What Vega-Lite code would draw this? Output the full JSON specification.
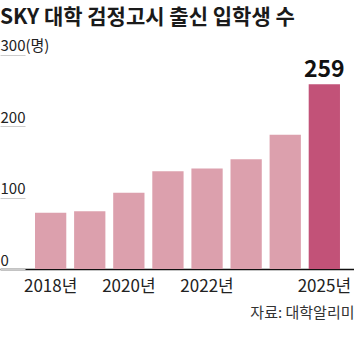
{
  "$schema": "https://vega.github.io/schema/vega-lite/v6.json",
  "width": 354,
  "height": 239,
  "autosize": {"type": "none"},
  "padding": {"top": 30, "left": 0, "right": 0, "bottom": 82},
  "background": "white",
  "title": {
    "text": "SKY 대학 검정고시 출신 입학생 수",
    "anchor": "start",
    "frame": "group",
    "font": "Noto Sans CJK KR",
    "fontSize": 21,
    "fontWeight": "bold",
    "color": "#1a1a1a",
    "offset": 2
  },
  "config": {
    "view": {"stroke": null},
    "font": "Noto Sans CJK KR"
  },
  "data": {
    "values": [
      {"year": "2018", "count": 79},
      {"year": "2019", "count": 81},
      {"year": "2020", "count": 107},
      {"year": "2021", "count": 137},
      {"year": "2022", "count": 141},
      {"year": "2023", "count": 154},
      {"year": "2024", "count": 188},
      {"year": "2025", "count": 259}
    ]
  },
  "encoding": {
    "x": {
      "field": "year",
      "type": "ordinal",
      "scale": {"paddingInner": 0.2, "paddingOuter": 0.627, "align": 0.714},
      "axis": {
        "values": ["2018", "2020", "2022", "2025"],
        "labelExpr": "datum.label + '년'",
        "labelAngle": 0,
        "labelFont": "Noto Sans CJK KR",
        "labelFontSize": 17,
        "labelColor": "#222222",
        "labelPadding": 9,
        "ticks": false,
        "domainColor": "#111111",
        "domainWidth": 1.5,
        "title": "자료: 대학알리미",
        "titleFont": "Noto Sans CJK KR",
        "titleFontSize": 15,
        "titleFontWeight": "normal",
        "titleColor": "#333333",
        "titleAnchor": "end",
        "titleAlign": "right",
        "titlePadding": 11
      }
    },
    "y": {
      "field": "count",
      "type": "quantitative",
      "scale": {"domain": [0, 335], "nice": false, "zero": true},
      "axis": {
        "values": [0, 100, 200, 300],
        "labelExpr": "datum.value == 300 ? '300(명)' : datum.label",
        "grid": false,
        "domain": false,
        "ticks": true,
        "tickSize": -25,
        "tickColor": "#cccccc",
        "tickWidth": 1,
        "labelAlign": "left",
        "labelBaseline": "alphabetic",
        "labelOffset": -4,
        "labelPadding": 25,
        "labelFont": "Noto Sans CJK KR",
        "labelFontSize": 15,
        "labelColor": "#222222",
        "title": null
      }
    }
  },
  "layer": [
    {
      "mark": {"type": "bar"},
      "encoding": {
        "color": {
          "condition": {"test": "datum.year == '2025'", "value": "#c25278"},
          "value": "#dca0ad"
        }
      }
    },
    {
      "transform": [{"filter": "datum.year == '2025'"}],
      "mark": {
        "type": "text",
        "dy": -7,
        "baseline": "alphabetic",
        "font": "Noto Sans CJK KR",
        "fontSize": 23,
        "fontWeight": "bold",
        "color": "#111111"
      },
      "encoding": {
        "text": {"field": "count", "type": "quantitative"}
      }
    }
  ]
}
